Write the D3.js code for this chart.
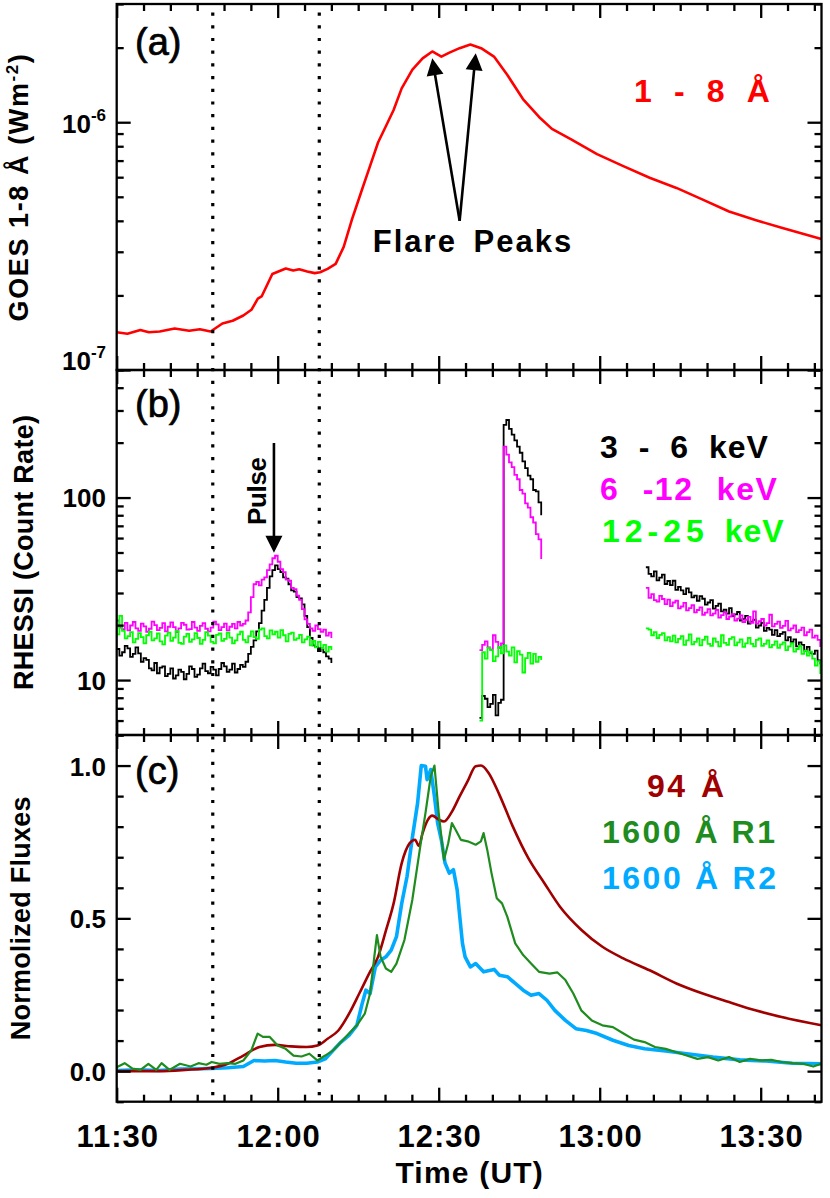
<!DOCTYPE html>
<html><head><meta charset="utf-8">
<script src="https://cdn.jsdelivr.net/npm/d3@7"></script>
<style>
html,body{margin:0;padding:0;background:#fff;}
svg{display:block;}
text{font-family:"Liberation Sans",Arial,sans-serif;font-weight:bold;}
</style></head><body>
<svg id="chart" width="830" height="1198"></svg>
<script>
// ---------- DATA (time in minutes after 11:30 UT) ----------
const xTickVals = [0, 30, 60, 90, 120];
const xTickLabels = ["11:30", "12:00", "12:30", "13:00", "13:30"];
const xMinorVals = [5,10,15,20,25,35,40,45,50,55,65,70,75,80,85,95,100,105,110,115,125,130];
const markerTimes = [17.9, 37.75];

// (a) GOES 1-8 A
const goesT = [0,2,4.4,6,8,10.8,13.5,15.5,17.5,19.7,21.6,23.6,25.1,26.3,27,29,31.5,32.9,34,35.5,36.9,37.9,39.3,40.8,42.3,43.8,45.7,47.2,48.7,50.2,51.6,53.1,55.1,57,58.8,60.5,62,63.9,65.9,67.9,70.3,72.8,75.7,78.7,81.1,84.6,89.5,94.4,99.3,104.3,109.2,114.1,119,123.9,131.3];
const goesV = [1.42e-7,1.40e-7,1.45e-7,1.42e-7,1.43e-7,1.47e-7,1.44e-7,1.46e-7,1.43e-7,1.54e-7,1.58e-7,1.66e-7,1.75e-7,1.94e-7,1.98e-7,2.44e-7,2.57e-7,2.52e-7,2.55e-7,2.50e-7,2.46e-7,2.48e-7,2.56e-7,2.68e-7,3.14e-7,4.03e-7,5.34e-7,6.65e-7,8.28e-7,9.68e-7,1.12e-6,1.37e-6,1.63e-6,1.81e-6,1.93e-6,1.84e-6,1.91e-6,1.99e-6,2.06e-6,1.99e-6,1.84e-6,1.55e-6,1.24e-6,1.05e-6,9.4e-7,8.55e-7,7.43e-7,6.65e-7,5.97e-7,5.43e-7,4.87e-7,4.36e-7,4.03e-7,3.75e-7,3.38e-7];
const goesMajor = [1e-7, 1e-6];
const goesExp = ["-7", "-6"];
const goesMinor = [2e-7,3e-7,4e-7,5e-7,6e-7,7e-7,8e-7,9e-7,2e-6,3e-6];

// (b) RHESSI count rates, three data segments at 0.5 min cadence
const rhStarts = [0, 67.6, 98.6];
const rhStep = 0.5;
const rh36 = [
 [14.8,13.6,14.2,15.4,14.9,13.4,13.9,15.1,14.0,12.6,
  13.2,12.9,11.6,11.3,12.4,10.9,11.7,11.9,10.5,10.8,
  11.6,10.2,10.6,11.4,11.1,10.1,10.8,11.9,11.5,10.4,
  10.7,11.6,12.3,11.2,10.9,11.8,11.4,10.6,11.5,12.4,
  11.9,11.1,11.4,12.3,11.0,11.5,12.1,11.8,12.6,13.9,
  15.2,16.5,18.5,20.5,24.0,27.5,32.0,37.0,40.0,42.5,
  40.5,39.0,36.5,36.0,33.5,31.0,30.5,28.5,28.0,26.0,
  22.5,19.5,17.0,15.5,15.2,14.4,14.9,14.2,13.5,13.1,12.4],
 [6.2,8.2,7.9,7.1,7.4,8.3,6.4,7.5,7.8,250,266,238,221,206,190,176,158,145,132,126,110,108,94,80],
 [41.5,38.2,37.0,39.4,35.2,36.4,37.8,33.6,34.9,33.1,
  35.0,31.2,32.4,31.0,29.6,31.8,30.2,28.4,29.0,27.2,
  28.8,27.9,25.9,26.6,27.4,24.6,25.5,26.2,23.8,24.3,
  23.1,24.8,22.4,22.9,23.6,21.2,21.6,22.5,20.4,20.9,
  21.4,19.4,19.9,20.6,18.6,19.3,18.9,17.7,18.8,17.4,
  17.9,18.3,16.5,17.2,16.2,16.7,15.3,16.1,15.6,14.5,
  15.2,14.1,13.9,14.5,12.8,12.2]
];
const rh612 = [
 [21.2,19.4,19.0,20.6,18.7,19.9,20.8,19.2,18.6,20.4,
  19.7,18.4,19.1,20.9,20.0,18.8,19.3,20.5,18.5,19.6,
  20.7,19.5,18.3,19.2,20.6,20.1,18.9,19.0,20.8,19.4,
  18.6,19.8,20.5,19.1,18.5,19.4,20.9,20.2,18.8,19.5,
  20.4,18.7,19.6,20.3,19.2,20.8,19.9,20.3,21.2,23.5,
  28.5,33.5,34.5,33.0,35.5,36.5,40.0,43.0,46.5,48.0,
  44.5,40.5,39.0,35.5,35.0,32.0,31.5,29.0,27.5,24.5,
  21.5,20.3,19.2,18.6,19.9,19.0,18.4,18.9,17.5,18.2,17.0],
 [14.6,15.6,16.3,15.1,14.7,17.6,16.2,15.0,15.9,190,172,156,147,133,126,110,105,93,88,78,73,63,59,46],
 [32.0,28.2,29.6,27.4,26.9,28.9,27.8,26.1,27.6,25.4,
  26.6,27.2,24.7,25.3,26.5,24.1,24.8,25.7,23.5,24.2,
  25.0,22.8,23.4,24.5,22.6,23.1,24.2,22.0,22.7,23.5,
  21.6,22.3,23.0,21.2,21.7,22.6,20.8,21.4,22.2,20.6,
  23.8,20.4,21.0,21.6,19.9,20.5,22.8,19.7,20.3,20.9,
  19.3,19.8,21.1,18.7,19.2,19.9,18.3,18.8,19.4,17.6,
  18.3,18.9,17.1,17.5,16.6,15.2]
];
const rh1225 = [
 [17.8,22.5,18.6,16.9,17.4,18.3,16.1,16.8,18.1,17.2,
  15.9,17.6,18.4,16.5,16.9,18.0,16.3,15.7,17.5,18.2,
  16.4,17.1,18.6,16.0,15.8,17.3,17.9,16.2,16.7,18.1,
  17.0,15.8,16.6,18.3,17.5,16.2,15.9,17.7,18.0,16.4,
  16.8,18.2,17.1,15.9,16.5,17.8,18.4,16.6,16.1,17.4,
  18.5,17.2,16.8,18.9,19.2,17.4,16.9,18.7,17.8,18.4,
  17.1,18.8,17.6,16.3,17.9,18.2,16.6,16.9,17.7,16.1,
  16.7,17.3,15.5,16.4,15.1,16.2,14.9,15.6,14.3,15.2,14.6],
 [6.0,14.2,13.1,15.0,14.6,12.7,13.5,15.2,14.0,15.5,14.3,13.6,15.1,12.5,14.4,13.8,11.0,13.2,14.1,12.3,13.9,12.6,13.4,12.9],
 [19.2,18.9,17.6,18.3,17.0,17.7,18.1,16.5,17.2,16.3,
  17.5,16.1,16.8,17.4,15.6,16.5,17.8,15.7,16.2,16.9,
  15.5,16.6,17.3,15.8,15.4,16.9,16.2,15.3,17.6,16.0,
  15.6,16.8,17.2,15.5,16.1,16.7,15.2,15.9,17.0,15.8,
  15.3,16.6,16.9,15.4,15.8,16.5,15.1,15.6,16.3,15.0,
  15.7,16.1,14.6,15.3,15.9,14.3,14.8,15.4,13.9,14.5,
  13.6,14.3,13.1,12.0,12.7,10.8]
];
const rhMajor = [10, 100];
const rhMinor = [5,6,7,8,9,20,30,40,50,60,70,80,90,200,300,400,500];

// (c) normalized fluxes
const a94T = [0,7.9,12.8,17.7,20.7,23.6,26.6,29.5,32.5,35.4,37.4,39.3,41.3,43.3,45.2,47.2,48.7,50.2,51.6,53.1,54.6,55.6,56.3,57.0,58.0,58.8,60.0,61.0,62.5,63.9,65.4,66.9,67.9,69.3,71.3,73.8,76.7,79.7,82.6,86.6,90.5,94.4,99.3,104.3,109.2,114.1,119.0,123.9,131.3];
const a94V = [0.0,0.0,0.004,0.011,0.024,0.051,0.079,0.086,0.081,0.079,0.084,0.106,0.133,0.188,0.254,0.325,0.374,0.462,0.549,0.680,0.746,0.757,0.737,0.779,0.823,0.836,0.823,0.817,0.850,0.899,0.949,0.998,1.0,0.976,0.905,0.801,0.697,0.615,0.538,0.462,0.407,0.369,0.330,0.287,0.254,0.226,0.199,0.177,0.150];
const r1T = [0,1.48,2.95,4.43,5.9,7.38,8.36,9.84,11.8,13.77,15.25,16.72,17.7,19.18,20.66,22.13,23.6,25.08,26.26,27.25,28.52,30.0,31.48,32.95,34.43,35.9,37.38,38.85,40.33,41.8,43.28,44.75,46.23,47.21,48.0,48.49,49.18,50.16,51.15,52.13,53.61,55.08,56.56,57.54,58.52,59.21,60.0,60.98,61.77,62.46,63.15,64.13,65.41,66.89,67.87,68.36,69.05,69.84,70.82,71.8,72.79,74.26,75.74,77.21,78.69,80.66,82.13,83.61,85.08,86.56,88.52,90.49,92.46,94.43,96.39,98.36,100.3,102.3,104.3,106.2,108.2,110.2,112.1,114.1,116.1,118.0,120.0,122.0,123.9,125.9,127.9,129.8,131.3];
const r1V = [0.013,0.026,0.008,0.004,0.024,0.004,0.026,0.004,0.024,0.015,0.026,0.021,0.030,0.024,0.026,0.024,0.035,0.068,0.123,0.112,0.112,0.084,0.073,0.051,0.048,0.057,0.035,0.051,0.068,0.095,0.123,0.150,0.188,0.254,0.374,0.445,0.374,0.336,0.325,0.352,0.429,0.560,0.735,0.845,0.965,1.000,0.845,0.691,0.746,0.812,0.790,0.757,0.752,0.741,0.752,0.779,0.724,0.648,0.566,0.549,0.505,0.418,0.380,0.352,0.325,0.319,0.323,0.298,0.254,0.199,0.166,0.150,0.144,0.123,0.103,0.095,0.079,0.073,0.062,0.051,0.040,0.046,0.035,0.046,0.030,0.040,0.035,0.037,0.030,0.026,0.024,0.015,0.024];
const r2T = [0,3.93,7.87,11.8,15.74,17.7,20.66,23.6,25.57,27.54,29.51,31.48,33.44,35.41,37.38,38.85,40.33,41.8,43.28,44.75,45.74,46.43,47.21,48.2,49.18,50.16,51.15,52.13,53.11,54.1,55.08,56.07,56.75,57.54,57.84,58.52,59.21,59.8,60.49,61.18,61.97,62.75,63.44,63.93,64.43,64.92,65.9,66.89,68.36,70.33,71.31,72.79,74.26,75.74,77.21,78.69,80.16,81.64,83.61,85.57,87.54,89.51,92.46,95.41,98.36,102.3,106.2,111.1,116.1,121.0,125.9,131.3];
const r2V = [0.002,0.004,0.002,0.007,0.008,0.009,0.011,0.015,0.035,0.033,0.035,0.030,0.026,0.026,0.030,0.040,0.068,0.095,0.117,0.150,0.221,0.265,0.254,0.341,0.363,0.374,0.396,0.440,0.549,0.637,0.763,0.877,1.000,0.998,0.954,0.987,0.899,0.812,0.757,0.681,0.648,0.659,0.593,0.505,0.418,0.374,0.341,0.352,0.325,0.333,0.314,0.309,0.287,0.265,0.248,0.254,0.232,0.199,0.166,0.139,0.133,0.123,0.101,0.084,0.073,0.066,0.057,0.046,0.037,0.033,0.026,0.024];
const ncMajor = [0.0, 0.5, 1.0];
const ncLabels = ["0.0", "0.5", "1.0"];
const ncMinor = [-0.1,0.1,0.2,0.3,0.4,0.6,0.7,0.8,0.9,1.1];

// annotations (data coordinates)
const flareBase = [63.9, 4.0e-7];
const flareTips = [[58.8, 1.81e-6], [66.9, 1.90e-6]];
const pulseArrow = [29.3, 199, 49.8];

// ---------- LAYOUT ----------
const svg = d3.select("#chart");
const X0 = 116.7, X1 = 821.5;
const PA = [4, 370], PB = [370, 735], PC = [735, 1101.7];
const x = d3.scaleLinear().domain([0, 131.33]).range([X0, X1]);
const yA = d3.scaleLog().domain([1e-7, 3e-6]).range([PA[1], PA[0]]);
const yB = d3.scaleLog().domain([5, 500]).range([PB[1], PB[0]]);
const yC = d3.scaleLinear().domain([-0.1, 1.1]).range([PC[1], PC[0]]);
const AX = 2.3;

const defs = svg.append("defs");
[["clipA", PA], ["clipB", PB], ["clipC", PC]].forEach(([id, p]) => {
  defs.append("clipPath").attr("id", id).append("rect")
    .attr("x", X0).attr("y", p[0]).attr("width", X1 - X0).attr("height", p[1] - p[0]);
});

function styleAxis(g) {
  g.select(".domain").remove();
  g.selectAll(".tick line").attr("stroke", "#000").attr("stroke-width", AX);
}
function xTicks(p) {
  [[xTickVals, 14], [xMinorVals, 7]].forEach(([vals, len]) => {
    svg.append("g").attr("transform", `translate(0,${p[1]})`)
      .call(d3.axisBottom(x).tickValues(vals).tickSizeInner(-len).tickSizeOuter(0).tickFormat(""))
      .call(styleAxis);
    svg.append("g").attr("transform", `translate(0,${p[0]})`)
      .call(d3.axisTop(x).tickValues(vals).tickSizeInner(-len).tickSizeOuter(0).tickFormat(""))
      .call(styleAxis);
  });
}
function yTicks(scale, major, minor) {
  [[major, 14], [minor, 7]].forEach(([vals, len]) => {
    svg.append("g").attr("transform", `translate(${X0},0)`)
      .call(d3.axisLeft(scale).tickValues(vals).tickSizeInner(-len).tickSizeOuter(0).tickFormat(""))
      .call(styleAxis);
    svg.append("g").attr("transform", `translate(${X1},0)`)
      .call(d3.axisRight(scale).tickValues(vals).tickSizeInner(-len).tickSizeOuter(0).tickFormat(""))
      .call(styleAxis);
  });
}

// ---------- DATA LINES ----------
const goesData = goesT.map((t, i) => ({t, v: goesV[i]}));
svg.append("path").datum(goesData).attr("clip-path", "url(#clipA)")
  .attr("fill", "none").attr("stroke", "#ff0000").attr("stroke-width", 2.6).attr("stroke-linejoin", "round")
  .attr("d", d3.line().x(d => x(d.t)).y(d => yA(d.v)));

const rhLine = d3.line().x(d => x(d.t)).y(d => yB(d.v)).curve(d3.curveStepAfter);
[[rh36, "#000000"], [rh612, "#ff00ff"], [rh1225, "#00ff00"]].forEach(([segs, col]) => {
  segs.forEach((vals, s) => {
    const data = vals.map((v, i) => ({t: rhStarts[s] + i * rhStep, v}));
    svg.append("path").datum(data).attr("clip-path", "url(#clipB)")
      .attr("fill", "none").attr("stroke", col).attr("stroke-width", 1.8)
      .attr("d", rhLine);
  });
});

const ncLine = d3.line().x(d => x(d.t)).y(d => yC(d.v));
[[r2T, r2V, "#00aaff", 3.6, d3.curveLinear], [a94T, a94V, "#a00000", 2.6, d3.curveMonotoneX], [r1T, r1V, "#1e8c1e", 2.2, d3.curveLinear]]
  .forEach(([T, V, col, w, curve]) => {
    svg.append("path").datum(T.map((t, i) => ({t, v: V[i]}))).attr("clip-path", "url(#clipC)")
      .attr("fill", "none").attr("stroke", col).attr("stroke-width", w).attr("stroke-linejoin", "round")
      .attr("d", ncLine.curve(curve));
  });

markerTimes.forEach(t => {
  svg.append("line").attr("x1", x(t)).attr("x2", x(t)).attr("y1", PA[0]).attr("y2", PC[1])
    .attr("stroke", "#000").attr("stroke-width", 3.2).attr("stroke-dasharray", "3.2 9.5")
    .attr("stroke-dashoffset", -8.5);
});

// ---------- FRAMES & TICKS ----------
[PA, PB, PC].forEach(p => {
  svg.append("rect").attr("x", X0).attr("y", p[0]).attr("width", X1 - X0).attr("height", p[1] - p[0])
    .attr("fill", "none").attr("stroke", "#000").attr("stroke-width", AX);
  xTicks(p);
});
yTicks(yA, goesMajor, goesMinor);
yTicks(yB, rhMajor, rhMinor);
yTicks(yC, ncMajor, ncMinor);

const xl = svg.append("g").attr("transform", `translate(0,${PC[1]})`)
  .call(d3.axisBottom(x).tickValues(xTickVals).tickSize(0).tickPadding(23.5).tickFormat((d, i) => xTickLabels[i]));
xl.select(".domain").remove();
xl.selectAll("text").attr("font-size", 31).attr("font-family", "Liberation Sans, Arial, sans-serif")
  .attr("font-weight", "bold").attr("fill", "#000").attr("letter-spacing", 1).attr("dx", 0.5);

goesMajor.forEach((v, i) => {
  const yy = Math.min(yA(v) + 11, PA[1]);
  const t = svg.append("text").attr("x", 106).attr("y", yy).attr("text-anchor", "end").attr("font-size", 26);
  t.append("tspan").text("10");
  t.append("tspan").attr("dy", -12).attr("font-size", 17).text(goesExp[i]);
});
rhMajor.forEach(v => {
  svg.append("text").attr("x", 106).attr("y", yB(v) + 9.5).attr("text-anchor", "end").attr("font-size", 26).text(String(v));
});
ncMajor.forEach((v, i) => {
  svg.append("text").attr("x", 106).attr("y", yC(v) + 10).attr("text-anchor", "end").attr("font-size", 26).text(ncLabels[i]);
});

function yTitle(cx, cy, str, len) {
  return svg.append("text").attr("transform", `translate(${cx},${cy}) rotate(-90)`)
    .attr("text-anchor", "middle").attr("font-size", 27)
    .attr("textLength", len).attr("lengthAdjust", "spacing").text(str);
}
const gt = svg.append("text").attr("transform", `translate(27.5,${(PA[0] + PA[1]) / 2}) rotate(-90)`)
  .attr("text-anchor", "middle").attr("font-size", 27).attr("letter-spacing", 1.6);
gt.append("tspan").text("GOES 1-8 Å (Wm");
gt.append("tspan").attr("dy", -10).attr("font-size", 17).text("-2");
gt.append("tspan").attr("dy", 10).text(")");
yTitle(33, (PB[0] + PB[1]) / 2, "RHESSI (Count Rate)", 275);
yTitle(29.5, (PC[0] + PC[1]) / 2, "Normolized Fluxes", 244);
svg.append("text").attr("x", (X0 + X1) / 2 + 0.6).attr("y", 1183).attr("text-anchor", "middle")
  .attr("font-size", 30).attr("letter-spacing", 1.2).text("Time (UT)");

[["(a)", 55], ["(b)", 417], ["(c)", 784]].forEach(([s, yy]) => {
  svg.append("text").attr("x", 135).attr("y", yy).attr("font-size", 38)
    .style("font-weight", "normal").attr("stroke", "#000").attr("stroke-width", 0.7).text(s);
});

// legends: IDL-style wide spacing
function leg(xx, yy, str, col, ls, ws) {
  svg.append("text").attr("x", xx).attr("y", yy).attr("font-size", 32).attr("fill", col)
    .attr("letter-spacing", ls).attr("word-spacing", ws).style("white-space", "pre").text(str);
}
leg(634, 102, "1 - 8 Å", "#ff0000", 1, 11.3);
leg(600, 458, "3 - 6 keV", "#000000", 1, 10);
leg(600, 500, "6 -12 keV", "#ff00ff", 1.5, 13);
const g12 = svg.append("text").attr("x", 602).attr("y", 542).attr("font-size", 32).attr("fill", "#00ff00")
  .attr("word-spacing", 6);
g12.append("tspan").attr("letter-spacing", 5).text("12-25");
g12.append("tspan").attr("letter-spacing", 1).text(" keV");
leg(647, 797, "94 Å", "#a00000", 2.5, 2);
leg(602, 843, "1600 Å R1", "#1e8c1e", 2.5, 0);
leg(602, 889, "1600 Å R2", "#00aaff", 2.5, 0.5);

function arrow(x1, y1, x2, y2) {
  const dx = x2 - x1, dy = y2 - y1, L = Math.hypot(dx, dy);
  const ux = dx / L, uy = dy / L, hl = 17, hw = 8.5;
  svg.append("line").attr("x1", x1).attr("y1", y1).attr("x2", x2 - ux * hl * 0.8).attr("y2", y2 - uy * hl * 0.8)
    .attr("stroke", "#000").attr("stroke-width", 2.6);
  const bx = x2 - ux * hl, by = y2 - uy * hl;
  svg.append("path").attr("d", `M${x2},${y2}L${bx - uy * hw},${by + ux * hw}L${bx + uy * hw},${by - ux * hw}Z`).attr("fill", "#000");
}
flareTips.forEach(([t, v]) => arrow(x(flareBase[0]), yA(flareBase[1]), x(t), yA(v)));
svg.append("text").attr("x", 372.8).attr("y", 252).attr("font-size", 31)
  .attr("letter-spacing", 2).attr("word-spacing", 6).text("Flare Peaks");
arrow(x(pulseArrow[0]), yB(pulseArrow[1]), x(pulseArrow[0]), yB(pulseArrow[2]));
svg.append("text").attr("transform", `translate(266,491) rotate(-90)`).attr("text-anchor", "middle")
  .attr("font-size", 26).attr("textLength", 68).attr("lengthAdjust", "spacing").text("Pulse");
</script></body></html>
